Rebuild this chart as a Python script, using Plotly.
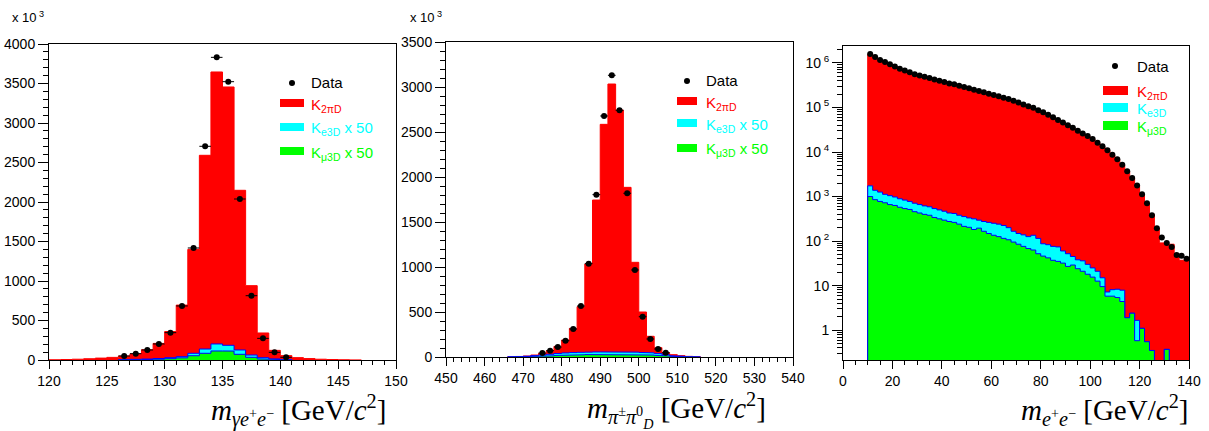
import numpy as np
import plotly.graph_objects as go

W, H = 1209, 431

# ---------------- Panel 1: m(gamma e+ e-) ----------------
p1_edges = np.arange(120, 148, 1.0)          # 27 bins 120..147
p1_k2pi = [3, 6, 10, 16, 24, 33, 50, 78, 130, 210, 360, 695, 1400, 2591, 3646,
           3456, 2148, 941, 342, 122, 55, 30, 18, 10, 6, 3, 1]
p1_sig_edges = np.arange(126, 142, 1.0)      # 15 bins 126..141
p1_kmu3 = [2, 4, 6, 10, 17, 27, 54, 85, 114, 113, 72, 34, 14, 6, 2]
p1_ke3 = [2, 4, 6, 9, 12, 15, 31, 54, 89, 73, 55, 29, 15, 7, 3]
p1_data_x = [126.5, 127.5, 128.5, 129.5, 130.5, 131.5, 132.5, 133.5, 134.5,
             135.5, 136.5, 137.5, 138.5, 139.5, 140.5]
p1_data = [51, 80, 127, 203, 346, 684, 1418, 2705, 3831, 3523, 2038, 814, 274, 97, 34]

# ---------------- Panel 2: m(pi+- pi0_D) ----------------
p2_edges = np.arange(466, 518, 2.0)          # 25 bins 466..516
p2_k2pi = [3, 6, 11, 22, 41, 70, 118, 189, 318, 559, 1033, 1744, 2585, 3033,
           2744, 1885, 1052, 500, 230, 104, 48, 26, 15, 7, 3]
p2_kmu3 = [1, 2, 4, 7, 10, 13, 17, 20, 23, 25, 27, 28, 29, 29, 29, 28, 27, 25,
           22, 18, 12, 7, 3, 1, 0]
p2_ke3 = [1, 2, 4, 8, 12, 17, 22, 25, 26, 27, 27, 28, 28, 28, 28, 27, 27, 26,
          24, 20, 14, 8, 4, 1, 0]
p2_data_x = [475, 477, 479, 481, 483, 485, 487, 489, 491, 493, 495, 497, 499,
             501, 503, 505, 507]
p2_data = [44, 70, 111, 181, 311, 567, 1037, 1804, 2678, 3130, 2741, 1819, 967,
           448, 200, 89, 48]

# ---------------- Panel 3: m(e+ e-), log scale ----------------
p3_edges = np.arange(10, 142, 2.0)           # 65 bins 10..140
p3_data = [1.58e6, 1.35e6, 1.17e6, 1.05e6, 9.3e5, 8.3e5, 7.4e5, 6.8e5, 6.2e5, 5.6e5, 5.25e5, 4.9e5, 4.57e5,
           4.27e5, 3.98e5, 3.72e5, 3.47e5, 3.31e5, 3.09e5, 2.88e5, 2.69e5, 2.51e5, 2.34e5, 2.19e5, 2.04e5, 1.91e5,
           1.78e5, 1.66e5, 1.55e5, 1.41e5, 1.29e5, 1.17e5, 1.07e5, 9.8e4, 8.7e4, 7.8e4, 6.9e4, 6.0e4, 5.2e4,
           4.6e4, 4.0e4, 3.5e4, 3.0e4, 2.6e4, 2.3e4, 1.95e4, 1.62e4, 1.35e4, 1.10e4, 8.7e3, 6.9e3, 5.2e3,
           3.7e3, 2.6e3, 1.78e3, 1.12e3, 710, 380, 195, 120, 91, 74, 49, 47, 40]
p3_k2pi = [1.55e6, 1.31e6, 1.14e6, 1.02e6, 9.0e5, 8.1e5, 7.2e5, 6.6e5, 6.0e5, 5.45e5, 5.1e5, 4.75e5, 4.45e5,
           4.15e5, 3.87e5, 3.62e5, 3.38e5, 3.22e5, 3.0e5, 2.8e5, 2.62e5, 2.44e5, 2.28e5, 2.13e5, 1.98e5, 1.86e5,
           1.73e5, 1.61e5, 1.5e5, 1.37e5, 1.25e5, 1.14e5, 1.04e5, 9.5e4, 8.5e4, 7.6e4, 6.7e4, 5.85e4, 5.05e4,
           4.5e4, 3.9e4, 3.4e4, 2.9e4, 2.55e4, 2.25e4, 1.9e4, 1.58e4, 1.31e4, 1.07e4, 8.5e3, 6.7e3, 5.1e3,
           3.6e3, 2.55e3, 1.75e3, 1.1e3, 690, 400, 190, 91, 85, 85, 52, 37, 37]
p3_kmu3 = [1000, 851, 776, 724, 661, 631, 575, 537, 513, 457, 427, 398, 380,
           339, 316, 295, 275, 263, 240, 214, 204, 182, 195, 166, 148, 135,
           126, 115, 107, 95, 85, 76, 68, 63, 52, 46, 42, 37, 35,
           32, 27, 29, 24, 21, 18, 15.5, 12.6, 9.5, 5.8, 5.8, 5.4, 4.4,
           1.9, 2.4, 0.58, 1.1, 0.55, 0.35, 0, 0, 0.37, 0, 0, 0, 0]
p3_ke3 = [738, 529, 483, 398, 386, 346, 316, 295, 263, 251, 234, 219, 209,
          198, 185, 173, 152, 154, 140, 141, 127, 134, 100, 109, 115, 116,
          114, 109, 93, 71, 63, 62, 58, 72, 63, 41, 41, 39, 39,
          28, 25, 16, 14, 15, 12, 9.5, 8.4, 5.5, 1.4, 2.3, 2.9, 3.5,
          0, 0, 1.08, 0, 0, 0, 0, 0, 0, 0, 0, 0, 0]

for arr in (p3_data, p3_k2pi, p3_kmu3, p3_ke3):
    assert len(arr) == len(p3_edges) - 1, len(arr)
assert len(p1_k2pi) == len(p1_edges) - 1
assert len(p2_k2pi) == len(p2_edges) - 1 == len(p2_kmu3) == len(p2_ke3)

RED, CYAN, GREEN, BLUE = "#ff0000", "#00ffff", "#00ff00", "#0000ff"


def step_poly(edges, vals, base):
    xs, ys = [edges[0]], [base]
    for i, v in enumerate(vals):
        v = v if v > 0 else base
        xs += [edges[i], edges[i + 1]]
        ys += [v, v]
    xs.append(edges[-1])
    ys.append(base)
    return xs, ys


fig = go.Figure()


def add_hist(edges, vals, fill, line, xa, ya, base):
    xs, ys = step_poly(edges, vals, base)
    fig.add_trace(go.Scatter(x=xs, y=ys, mode="lines", fill="toself", fillcolor=fill,
                             line=dict(color=line, width=1), xaxis=xa, yaxis=ya,
                             hoverinfo="skip", showlegend=False))


def add_data(x, y, half, xa, ya):
    fig.add_trace(go.Scatter(x=x, y=y, mode="markers", xaxis=xa, yaxis=ya,
                             marker=dict(color="black", size=6),
                             error_x=dict(type="constant", value=half, color="black",
                                          thickness=1, width=0),
                             showlegend=False))


# panel 1
add_hist(p1_edges, p1_k2pi, RED, RED, "x", "y", 0)
add_hist(p1_sig_edges, np.add(p1_kmu3, p1_ke3), CYAN, BLUE, "x", "y", 0)
add_hist(p1_sig_edges, p1_kmu3, GREEN, BLUE, "x", "y", 0)
add_data(p1_data_x, p1_data, 0.5, "x", "y")
# panel 2
add_hist(p2_edges, p2_k2pi, RED, RED, "x2", "y2", 0)
add_hist(p2_edges, np.add(p2_kmu3, p2_ke3), CYAN, BLUE, "x2", "y2", 0)
add_hist(p2_edges, p2_kmu3, GREEN, BLUE, "x2", "y2", 0)
add_data(p2_data_x, p2_data, 1.0, "x2", "y2")
# panel 3
LOGBASE = 1e-3
add_hist(p3_edges, p3_k2pi, RED, RED, "x3", "y3", LOGBASE)
add_hist(p3_edges, np.add(p3_kmu3, p3_ke3), CYAN, BLUE, "x3", "y3", LOGBASE)
add_hist(p3_edges, p3_kmu3, GREEN, BLUE, "x3", "y3", LOGBASE)
p3_centers = (p3_edges[:-1] + p3_edges[1:]) / 2
add_data(p3_centers, p3_data, 1.0, "x3", "y3")


def px(x):
    return x / W


def py(y):
    return 1 - y / H


TICKFONT = dict(family="Liberation Sans, Arial, sans-serif", size=14, color="black")


def xaxis(dom, rng, dtick, minor, anchor):
    return dict(domain=[px(dom[0]), px(dom[1])], range=rng, dtick=dtick, tick0=0,
                ticks="outside", ticklen=8, tickwidth=1, tickcolor="black",
                minor=dict(dtick=minor, tick0=0, ticks="outside", ticklen=4,
                           tickcolor="black", tickwidth=1),
                showline=True, linecolor="black", linewidth=1, mirror=True,
                showgrid=False, zeroline=False, tickfont=TICKFONT, anchor=anchor,
                automargin=False)


def yaxis(dom, rng, dtick, minor, anchor):
    return dict(domain=[py(dom[1]), py(dom[0])], range=rng, dtick=dtick, tick0=0,
                ticks="outside", ticklen=10, tickwidth=1, tickcolor="black",
                minor=dict(dtick=minor, tick0=0, ticks="outside", ticklen=5,
                           tickcolor="black", tickwidth=1),
                showline=True, linecolor="black", linewidth=1, mirror=True,
                showgrid=False, zeroline=False, tickfont=TICKFONT, anchor=anchor,
                automargin=False)


minor_log = [m * 10.0 ** d for d in range(-1, 7) for m in range(2, 10)]

fig.update_layout(
    template="none",
    width=W, height=H, autosize=False,
    margin=dict(l=0, r=0, t=0, b=0, pad=0, autoexpand=False),
    paper_bgcolor="white", plot_bgcolor="white",
    xaxis=xaxis((49, 396), [120, 150], 5, 1, "y"),
    yaxis=yaxis((44, 360), [0, 4000], 500, 100, "x"),
    xaxis2=xaxis((446, 793), [450, 540], 10, 2, "y2"),
    yaxis2=yaxis((42, 357), [0, 3500], 500, 100, "x2"),
    xaxis3=xaxis((843, 1189), [0, 140], 20, 5, "y3"),
    yaxis3=dict(domain=[py(360), py(46)], type="log", range=[-0.67, 6.38],
                tickmode="array", tickvals=[1, 10, 100, 1e3, 1e4, 1e5, 1e6],
                ticktext=["1", "10", "10<sup> 2</sup>", "10<sup> 3</sup>", "10<sup> 4</sup>",
                          "10<sup> 5</sup>", "10<sup> 6</sup>"],
                ticks="outside", ticklen=10, tickwidth=1, tickcolor="black",
                minor=dict(tickmode="array", tickvals=minor_log, ticks="outside",
                           ticklen=5, tickcolor="black", tickwidth=1),
                showline=True, linecolor="black", linewidth=1, mirror=True,
                showgrid=False, zeroline=False, tickfont=TICKFONT, anchor="x3",
                automargin=False),
)

SANS = "Liberation Sans, Arial, sans-serif"
SERIF = "Liberation Serif, Times New Roman, serif"
ann = []
shapes = []

# x 10^3 labels
for x0 in (10, 408):
    ann.append(dict(x=px(x0), y=py(17), xref="paper", yref="paper", xanchor="left",
                    yanchor="middle", showarrow=False, text="x 10<sup> 3</sup>",
                    font=dict(family=SANS, size=13, color="black")))

# axis titles
titles = [
    (388, "<i>m</i><sub><i>γe</i><sup>+</sup><i>e</i><sup>−</sup></sub> [GeV/<i>c</i><sup>2</sup>]"),
    (768, "<i>m</i><sub><i>π</i><sup>±</sup><i>π</i><sup>0</sup><sub><i>D</i></sub></sub> [GeV/<i>c</i><sup>2</sup>]"),
    (1190, "<i>m</i><sub><i>e</i><sup>+</sup><i>e</i><sup>−</sup></sub> [GeV/<i>c</i><sup>2</sup>]"),
]
for xr, t in titles:
    ann.append(dict(x=px(xr), y=py(410), xref="paper", yref="paper", xanchor="right",
                    yanchor="middle", showarrow=False, text=t,
                    font=dict(family=SERIF, size=29, color="black")))

# legends (dot x, dot y, rect x0, rect x1, text x, rect rows y, rect height, labels)
legends = [
    (292, 83, 280, 304, 309, [99, 123, 147], 8,
     ["K<sub>2πD</sub>", "K<sub>e3D</sub> x 50", "K<sub>μ3D</sub> x 50"]),
    (687, 81, 677, 697, 704, [97, 119, 144], 8,
     ["K<sub>2πD</sub>", "K<sub>e3D</sub> x 50", "K<sub>μ3D</sub> x 50"]),
    (1115, 66, 1103, 1128, 1135, [86, 103, 121], 9,
     ["K<sub>2πD</sub>", "K<sub>e3D</sub>", "K<sub>μ3D</sub>"]),
]
for dx, dy, rx0, rx1, tx, rows, rh, labels in legends:
    shapes.append(dict(type="circle", xref="paper", yref="paper",
                       x0=px(dx - 3), x1=px(dx + 3), y0=py(dy + 3), y1=py(dy - 3),
                       fillcolor="black", line=dict(width=0)))
    ann.append(dict(x=px(tx), y=py(dy), xref="paper", yref="paper", xanchor="left",
                    yanchor="middle", showarrow=False, text="Data",
                    font=dict(family=SANS, size=15, color="black")))
    for ry, col, lab in zip(rows, [RED, CYAN, GREEN], labels):
        shapes.append(dict(type="rect", xref="paper", yref="paper",
                           x0=px(rx0), x1=px(rx1), y0=py(ry + rh), y1=py(ry),
                           fillcolor=col, line=dict(width=0)))
        ann.append(dict(x=px(tx), y=py(ry + rh / 2 + 2), xref="paper", yref="paper",
                        xanchor="left", yanchor="middle", showarrow=False, text=lab,
                        font=dict(family=SANS, size=15, color=col)))

fig.update_layout(annotations=ann, shapes=shapes)
fig.write_html("out.html", config={"displayModeBar": False},
               post_script="document.body.style.margin='0';document.body.style.overflow='hidden';")
